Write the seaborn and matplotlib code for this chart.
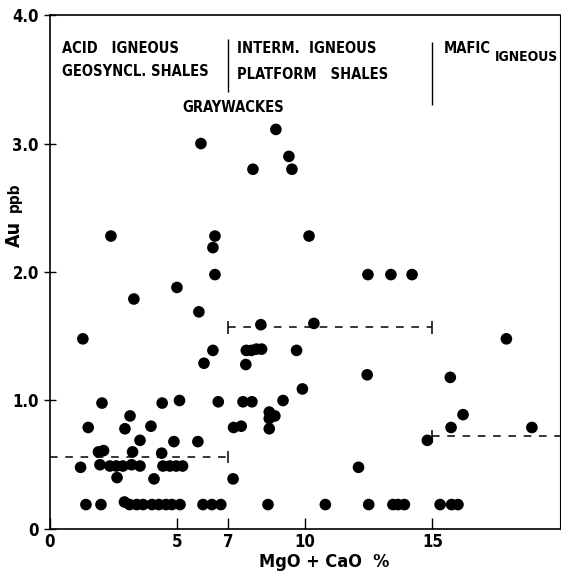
import matplotlib
matplotlib.use("Agg")
import matplotlib.pyplot as plt
import seaborn as sns
import pandas as pd

# ---- data ----
mgo_cao = [
    5.92, 8.86, 9.37, 9.49, 7.96,
    2.39, 6.47, 6.39, 6.47, 10.16,
    4.98, 3.29, 5.84, 1.29, 8.27, 10.35,
    17.9, 12.47, 13.37, 14.2,
    6.39, 6.04, 7.7, 7.9, 8.1, 8.3, 7.68, 9.67, 9.9,
    12.44, 15.7, 16.2, 15.73, 18.9, 14.8, 12.1,
    2.04, 4.4, 5.08, 6.6, 7.57, 7.92, 9.14,
    8.6, 8.82, 8.6, 8.6, 7.2, 7.5,
    1.5, 3.14, 2.94, 3.96, 3.53, 4.86, 5.8,
    1.9, 2.1, 3.24, 4.38,
    1.2, 1.96, 2.35, 2.6, 2.86, 3.2, 3.53, 4.43, 4.7, 4.95, 5.2,
    2.63, 4.08, 7.18,
    1.41, 2.0, 2.92, 3.12, 3.4, 3.65, 4.0, 4.27, 4.55, 4.78, 5.1,
    6.0, 6.35, 6.7, 8.55, 10.8, 12.5, 13.45, 13.65, 13.9, 15.3, 15.75, 16.0,
]
au_ppb = [
    3.00, 3.11, 2.90, 2.80, 2.80,
    2.28, 2.28, 2.19, 1.98, 2.28,
    1.88, 1.79, 1.69, 1.48, 1.59, 1.60,
    1.48, 1.98, 1.98, 1.98,
    1.39, 1.29, 1.39, 1.39, 1.40, 1.40, 1.28, 1.39, 1.09,
    1.20, 1.18, 0.89, 0.79, 0.79, 0.69, 0.48,
    0.98, 0.98, 1.00, 0.99, 0.99, 0.99, 1.00,
    0.91, 0.88, 0.86, 0.78, 0.79, 0.80,
    0.79, 0.88, 0.78, 0.80, 0.69, 0.68, 0.68,
    0.60, 0.61, 0.60, 0.59,
    0.48, 0.50, 0.49, 0.49, 0.49, 0.50, 0.49, 0.49, 0.49, 0.49, 0.49,
    0.40, 0.39, 0.39,
    0.19, 0.19, 0.21, 0.19, 0.19, 0.19, 0.19, 0.19, 0.19, 0.19, 0.19,
    0.19, 0.19, 0.19, 0.19, 0.19, 0.19, 0.19, 0.19, 0.19, 0.19, 0.19, 0.19,
]

# group means (dashed lines)
group_start = [0, 7, 15]
group_end = [7, 15, 20]
group_mean = [0.56, 1.57, 0.72]

# zone boundaries
zone_x = [7, 15]

x_ticks = [0, 5, 7, 10, 15]
x_tick_labels = ["0", "5", "7", "10", "15"]
y_ticks = [0, 1, 2, 3, 4]
y_tick_labels = ["0", "1.0", "2.0", "3.0", "4.0"]

df = pd.DataFrame({"x": mgo_cao, "y": au_ppb})

sns.set_style("ticks")
FONT = ["DejaVu Sans", "Liberation Sans"]
plt.rcParams["font.family"] = FONT
plt.rcParams["font.stretch"] = "condensed"
plt.rcParams["text.color"] = "black"
plt.rcParams["xtick.color"] = "black"
plt.rcParams["ytick.color"] = "black"

fig = plt.figure(figsize=(5.61, 5.71), dpi=100)
ax = fig.add_axes([0.0891, 0.0736, 0.909, 0.900])

sns.scatterplot(data=df, x="x", y="y", ax=ax, color="black", s=70,
                edgecolor="none", linewidth=0, zorder=3)

dash = (0, (5, 5))
for xs, xe, m in zip(group_start, group_end, group_mean):
    ax.hlines(m, xs, xe, colors="black", linestyles=dash, linewidth=1.1, zorder=2)
# end bars
ax.vlines([7], group_mean[0] - 0.05, group_mean[0] + 0.05, colors="black", linewidth=1.1)
ax.vlines([7, 15], group_mean[1] - 0.05, group_mean[1] + 0.05, colors="black", linewidth=1.1)
ax.vlines([15], group_mean[2] - 0.05, group_mean[2] + 0.05, colors="black", linewidth=1.1)

# zone separators
ax.vlines([zone_x[0]], 3.40, 3.81, colors="black", linewidth=1.0)
ax.vlines([zone_x[1]], 3.30, 3.79, colors="black", linewidth=1.0)

tkw = dict(fontsize=10.5, fontweight="bold", va="center", ha="left",
           family=FONT, fontstretch="condensed", color="black")
ax.text(0.47, 3.74, "ACID   IGNEOUS", **tkw)
ax.text(0.47, 3.56, "GEOSYNCL. SHALES", **tkw)
ax.text(7.33, 3.74, "INTERM.  IGNEOUS", **tkw)
ax.text(7.33, 3.54, "PLATFORM   SHALES", **tkw)
ax.text(15.45, 3.74, "MAFIC", **tkw)
ax.text(19.93, 3.67, "IGNEOUS", **{**tkw, "ha": "right", "fontsize": 10})
ax.text(5.2, 3.28, "GRAYWACKES", **tkw)

ax.set_xlim(0, 20)
ax.set_ylim(0, 4)
ax.set_xticks(x_ticks)
ax.set_xticklabels(x_tick_labels)
ax.set_yticks(y_ticks)
ax.set_yticklabels(y_tick_labels)
ax.tick_params(axis="x", direction="in", length=8, width=1, pad=3, labelsize=12)
ax.tick_params(axis="y", direction="inout", length=8, width=1, pad=4, labelsize=12)
for lab in ax.get_xticklabels() + ax.get_yticklabels():
    lab.set_fontweight("bold")
    lab.set_fontstretch("condensed")

ax.set_xlabel("")
ax.set_ylabel("")
ax.text(0.537, -0.064, "MgO + CaO  %", transform=ax.transAxes, ha="center", va="center",
        fontsize=13, fontweight="bold", family=FONT, fontstretch="condensed")
ax.text(-0.07, 0.575, "Au", transform=ax.transAxes, ha="center", va="center",
        rotation=90, fontsize=14, fontweight="bold", family=FONT, fontstretch="condensed")
ax.text(-0.07, 0.645, "ppb", transform=ax.transAxes, ha="center", va="center",
        rotation=90, fontsize=11, fontweight="bold", family=FONT, fontstretch="condensed")

for sp in ax.spines.values():
    sp.set_visible(True)
    sp.set_color("black")
    sp.set_linewidth(1.2)
ax.spines["right"].set_linewidth(0.8)

fig.savefig("out.png", dpi=100, facecolor="white")
